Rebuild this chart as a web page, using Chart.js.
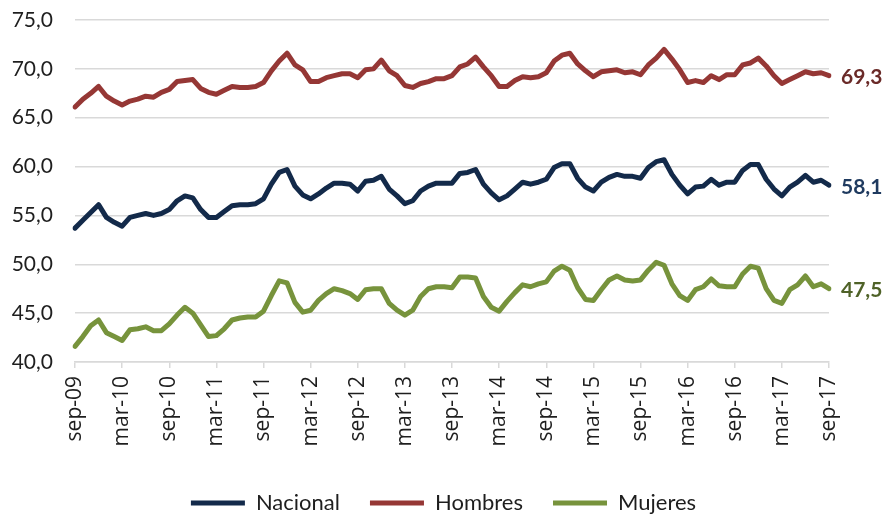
<!DOCTYPE html>
<html>
<head>
<meta charset="utf-8">
<script src="https://cdn.jsdelivr.net/npm/chart.js@4.4.1/dist/chart.umd.min.js"></script>
<style>
  html, body { margin: 0; padding: 0; background: #ffffff; }
  #wrap { width: 887px; height: 514px; }
</style>
</head>
<body>
<div id="wrap"><canvas id="c" width="887" height="514"></canvas></div>
<script>
// Monthly periods, sep-09 .. sep-17
const categories = [
  'sep-09','oct-09','nov-09','dic-09',
  'ene-10','feb-10','mar-10','abr-10','may-10','jun-10','jul-10','ago-10','sep-10','oct-10','nov-10','dic-10',
  'ene-11','feb-11','mar-11','abr-11','may-11','jun-11','jul-11','ago-11','sep-11','oct-11','nov-11','dic-11',
  'ene-12','feb-12','mar-12','abr-12','may-12','jun-12','jul-12','ago-12','sep-12','oct-12','nov-12','dic-12',
  'ene-13','feb-13','mar-13','abr-13','may-13','jun-13','jul-13','ago-13','sep-13','oct-13','nov-13','dic-13',
  'ene-14','feb-14','mar-14','abr-14','may-14','jun-14','jul-14','ago-14','sep-14','oct-14','nov-14','dic-14',
  'ene-15','feb-15','mar-15','abr-15','may-15','jun-15','jul-15','ago-15','sep-15','oct-15','nov-15','dic-15',
  'ene-16','feb-16','mar-16','abr-16','may-16','jun-16','jul-16','ago-16','sep-16','oct-16','nov-16','dic-16',
  'ene-17','feb-17','mar-17','abr-17','may-17','jun-17','jul-17','ago-17','sep-17'
];

// Tasa (%) por serie
const nacional = [
  53.7, 54.5, 55.3, 56.1, 54.8, 54.3, 53.9, 54.8, 55.0, 55.2, 55.0, 55.2,
  55.6, 56.5, 57.0, 56.8, 55.6, 54.8, 54.8, 55.4, 56.0, 56.1, 56.1, 56.2,
  56.7, 58.2, 59.4, 59.7, 58.0, 57.1, 56.7, 57.2, 57.8, 58.3, 58.3, 58.2,
  57.5, 58.5, 58.6, 59.0, 57.7, 57.0, 56.2, 56.5, 57.5, 58.0, 58.3, 58.3,
  58.3, 59.3, 59.4, 59.7, 58.2, 57.3, 56.6, 57.0, 57.7, 58.4, 58.2, 58.4,
  58.7, 59.9, 60.3, 60.3, 58.8, 57.9, 57.5, 58.4, 58.9, 59.2, 59.0, 59.0,
  58.8, 59.9, 60.5, 60.7, 59.2, 58.1, 57.2, 57.9, 58.0, 58.7, 58.1, 58.4,
  58.4, 59.6, 60.2, 60.2, 58.7, 57.7, 57.0, 57.9, 58.4, 59.1, 58.4, 58.6,
  58.1
];
const hombres = [
  66.1, 66.9, 67.5, 68.2, 67.2, 66.7, 66.3, 66.7, 66.9, 67.2, 67.1, 67.6,
  67.9, 68.7, 68.8, 68.9, 68.0, 67.6, 67.4, 67.8, 68.2, 68.1, 68.1, 68.2,
  68.6, 69.8, 70.8, 71.6, 70.4, 69.9, 68.7, 68.7, 69.1, 69.3, 69.5, 69.5,
  69.1, 69.9, 70.0, 70.9, 69.8, 69.3, 68.3, 68.1, 68.5, 68.7, 69.0, 69.0,
  69.3, 70.2, 70.5, 71.2, 70.2, 69.3, 68.2, 68.2, 68.8, 69.2, 69.1, 69.2,
  69.6, 70.8, 71.4, 71.6, 70.5, 69.8, 69.2, 69.7, 69.8, 69.9, 69.6, 69.7,
  69.4, 70.4, 71.1, 72.0, 71.0, 69.9, 68.6, 68.8, 68.6, 69.3, 68.9, 69.4,
  69.4, 70.4, 70.6, 71.1, 70.3, 69.3, 68.5, 68.9, 69.3, 69.7, 69.5, 69.6,
  69.3
];
const mujeres = [
  41.6, 42.6, 43.7, 44.3, 43.0, 42.6, 42.2, 43.3, 43.4, 43.6, 43.2, 43.2,
  43.9, 44.8, 45.6, 45.0, 43.8, 42.6, 42.7, 43.4, 44.3, 44.5, 44.6, 44.6,
  45.2, 46.8, 48.3, 48.1, 46.1, 45.1, 45.3, 46.3, 47.0, 47.5, 47.3, 47.0,
  46.4, 47.4, 47.5, 47.5, 46.0, 45.3, 44.8, 45.3, 46.7, 47.5, 47.7, 47.7,
  47.6, 48.7, 48.7, 48.6, 46.7, 45.6, 45.2, 46.2, 47.1, 47.9, 47.7, 48.0,
  48.2, 49.3, 49.8, 49.4, 47.6, 46.4, 46.3, 47.4, 48.4, 48.8, 48.4, 48.3,
  48.4, 49.4, 50.2, 49.9, 48.0, 46.8, 46.3, 47.4, 47.7, 48.5, 47.8, 47.7,
  47.7, 49.0, 49.8, 49.6, 47.5, 46.3, 46.0, 47.4, 47.9, 48.8, 47.7, 48.0,
  47.5
];

const seriesNames = ['Nacional', 'Hombres', 'Mujeres'];
const lineColors = ['#132a4a', '#953735', '#77933c'];
const endLabelColors = ['#1f3a5f', '#6a2a28', '#4f6228'];

// Month label every 6 periods
const tickEvery = 6;
const gridGray = '#d9d9d9';
const textDark = '#1e1e1e';

function fmt(v) { return v.toFixed(1).replace('.', ','); }

// Writes the latest value of each series just right of its line end
const endLabels = {
  id: 'endLabels',
  afterDatasetsDraw(chart) {
    const ctx = chart.ctx;
    chart.data.datasets.forEach((ds, i) => {
      const meta = chart.getDatasetMeta(i);
      const last = meta.data[meta.data.length - 1];
      const v = ds.data[ds.data.length - 1];
      ctx.save();
      ctx.font = 'bold 21px Lato, "Open Sans", sans-serif';
      ctx.fillStyle = endLabelColors[i];
      ctx.textAlign = 'left';
      ctx.textBaseline = 'middle';
      ctx.fillText(fmt(v), last.x + 12, last.y + 2);
      ctx.restore();
    });
  }
};

const seriesData = [nacional, hombres, mujeres];

new Chart(document.getElementById('c'), {
  type: 'line',
  data: {
    labels: categories,
    datasets: seriesNames.map((name, i) => ({
      label: name,
      data: seriesData[i],
      borderColor: lineColors[i],
      backgroundColor: lineColors[i],
      borderWidth: 5,
      borderJoinStyle: 'round',
      borderCapStyle: 'round',
      pointRadius: 0,
      pointHoverRadius: 0,
      tension: 0,
      fill: false
    }))
  },
  options: {
    responsive: false,
    animation: false,
    events: [],
    layout: { padding: { top: 20, right: 0, bottom: -10, left: 0 } },
    scales: {
      x: {
        type: 'category',
        offset: false,
        grid: {
          drawOnChartArea: false,
          drawTicks: true,
          tickLength: 6,
          lineWidth: 1.5,
          tickColor: (c) => (c.index % tickEvery === 0 ? gridGray : 'rgba(0,0,0,0)')
        },
        border: { display: true, color: gridGray, width: 1.5 },
        ticks: {
          autoSkip: false,
          minRotation: 90,
          maxRotation: 90,
          padding: 8,
          color: textDark,
          font: { family: '"Open Sans", sans-serif', size: 21 },
          callback: (val, idx) => (idx % tickEvery === 0 ? categories[idx] : '')
        },
        afterFit: (s) => { s.height = 100; }
      },
      y: {
        min: 40,
        max: 75,
        ticks: {
          stepSize: 5,
          padding: 0,
          color: textDark,
          font: { family: 'Lato, "Open Sans", sans-serif', size: 21 },
          callback: (v) => fmt(v)
        },
        grid: {
          color: gridGray,
          lineWidth: 1.5,
          drawTicks: true,
          tickLength: 22,
          tickColor: 'rgba(0,0,0,0)'
        },
        border: { display: false },
        afterFit: (s) => { s.width = 75; }
      },
      yRight: {
        position: 'right',
        display: true,
        min: 40,
        max: 75,
        ticks: { display: false },
        grid: { display: false, drawTicks: false },
        border: { display: false },
        afterFit: (s) => { s.width = 58; }
      }
    },
    plugins: {
      legend: {
        position: 'bottom',
        labels: {
          usePointStyle: true,
          pointStyle: 'line',
          pointStyleWidth: 54,
          padding: 30,
          color: textDark,
          font: { family: 'Lato, "Open Sans", sans-serif', size: 22 }
        }
      },
      tooltip: { enabled: false }
    }
  },
  plugins: [endLabels]
});
</script>
</body>
</html>
